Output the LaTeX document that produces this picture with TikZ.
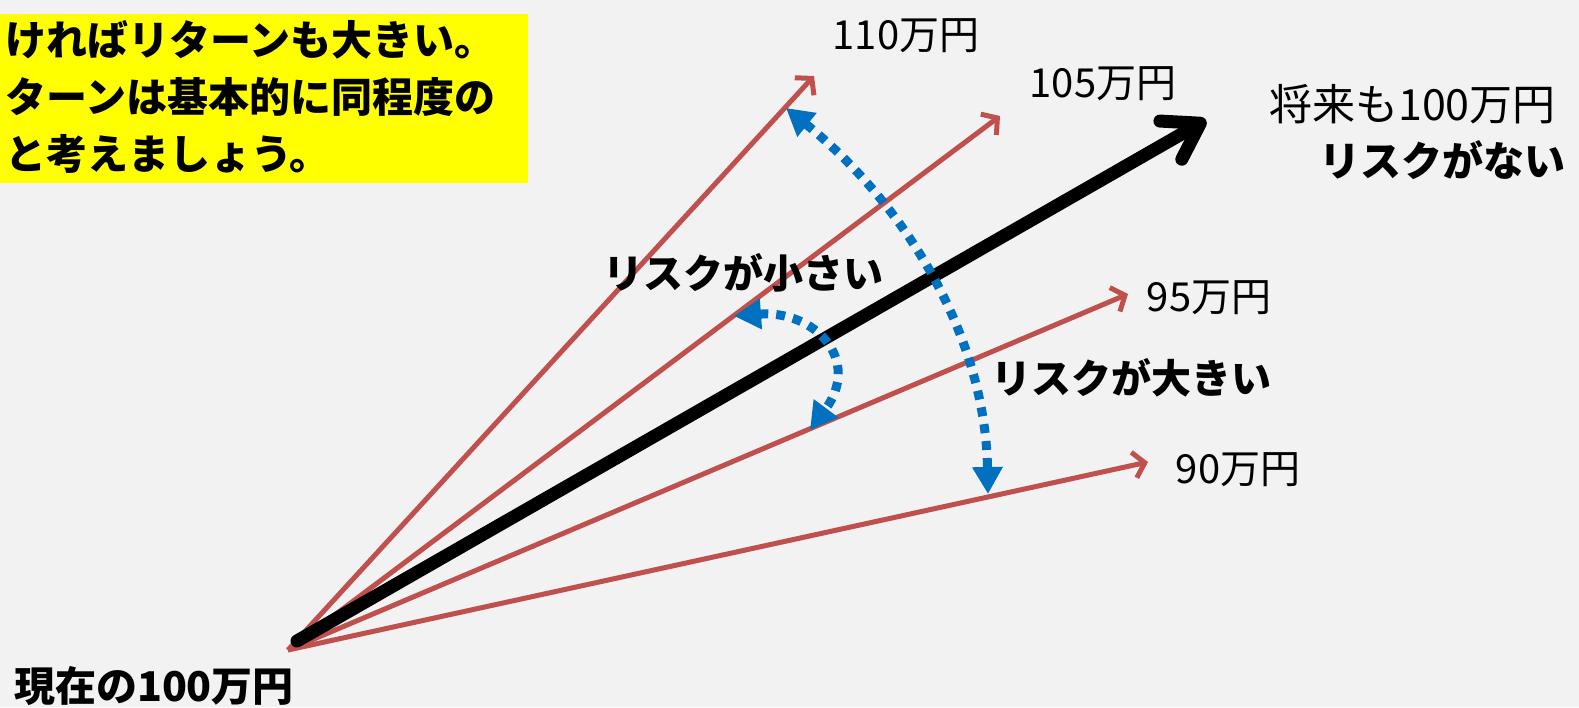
\documentclass[tikz,border=0pt]{standalone}
\usepackage{fontspec}
\setmainfont{Noto Sans CJK JP}
\newfontfamily\jp{Noto Sans CJK JP}
\usetikzlibrary{arrows.meta}
\definecolor{bg}{HTML}{F2F2F2}
\definecolor{rred}{HTML}{C0504D}
\definecolor{bblue}{HTML}{0070C0}
\definecolor{yel}{HTML}{FFFF00}
\tikzset{
  lbl/.style={font=\jp\fontsize{40}{48}\selectfont, inner sep=0pt, text=black},
  blbl/.style={font=\jp\bfseries\fontsize{40}{48}\selectfont, inner sep=0pt, text=black},
  redarrow/.style={draw=rred, line width=5pt, -{Straight Barb[length=11pt,width=26pt,line width=5pt]}},
  mainarrow/.style={draw=black, line width=13pt, line cap=round, -{Straight Barb[length=34pt,width=44pt,line width=13pt,round]}},
  riskarc/.style={draw=bblue, line width=9pt, dash pattern=on 9pt off 8pt, {Triangle[length=27pt,width=29pt]}-{Triangle[length=27pt,width=29pt]}}
}
\begin{document}
\begin{tikzpicture}[x=1pt,y=-1pt]
\useasboundingbox (0,0) rectangle (1579,707);
\fill[bg] (0,0) rectangle (1579,707);
% note box
\node[fill=yel, anchor=north west, minimum width=528pt, minimum height=169pt, inner sep=0pt] (notebox) at (0,14) {};
\node[anchor=north west, align=left, inner sep=0pt, font=\jp\bfseries\fontsize{41}{57}\selectfont] (note) at (5,20) {ければリターンも大きい。\\ターンは基本的に同程度の\\と考えましょう。};
% points
\coordinate (o) at (288,650);
\coordinate (ob) at (297,641);
\coordinate (e110) at (814,76);
\coordinate (e105) at (1000,116);
\coordinate (e95) at (1128,294);
\coordinate (e90) at (1148,462);
\coordinate (e100) at (1206,120);
\draw[redarrow] (o) -- (e110);
\draw[redarrow] (o) -- (e105);
\draw[redarrow] (o) -- (e95);
\draw[redarrow] (o) -- (e90);
\draw[mainarrow] (ob) -- (e100);
% arcs
\coordinate (a1) at (786,108);
\coordinate (a2) at (988,494);
\draw[riskarc] (a1) .. controls (900,200) and (985,330) .. (a2);
\coordinate (b1) at (734,316);
\coordinate (b2) at (810,430);
\draw[riskarc] (b1) .. controls (815,310) and (862,360) .. (b2);
% labels
\node[lbl] (l110) at (906,36) {110万円};
\node[lbl] (l105) at (1103,84) {105万円};
\node[lbl, anchor=east, font=\jp\fontsize{43}{48}\selectfont] (lfut) at (1556,104) {将来も100万円};
\node[blbl, anchor=east, font=\jp\bfseries\fontsize{41}{48}\selectfont] (lnone) at (1566,160) {リスクがない};
\node[lbl] (l95) at (1209,298) {95万円};
\node[lbl] (l90) at (1238,470) {90万円};
\node[blbl] (lsmall) at (743,273) {リスクが小さい};
\node[blbl] (lbig) at (1131,378) {リスクが大きい};
\node[blbl, font=\jp\bfseries\fontsize{41}{48}\selectfont] (lnow) at (154,686) {現在の100万円};
\end{tikzpicture}
\end{document}
